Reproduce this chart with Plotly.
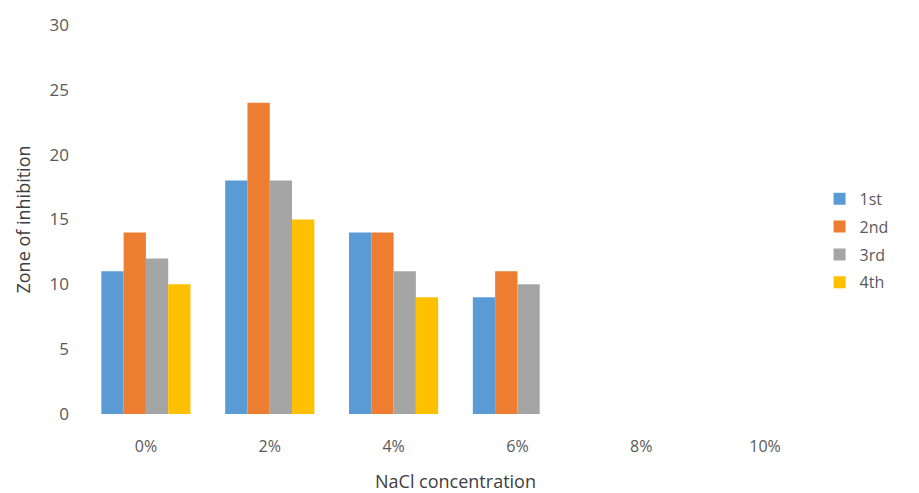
import plotly.graph_objects as go

# NaCl concentrations tested and zone of inhibition per replicate
categories = ["0%", "2%", "4%", "6%", "8%", "10%"]
first = [11, 18, 14, 9, 0, 0]
second = [14, 24, 14, 11, 0, 0]
third = [12, 18, 11, 10, 0, 0]
fourth = [10, 15, 9, 0, 0, 0]

series_names = ["1st", "2nd", "3rd", "4th"]
series_values = [first, second, third, fourth]
colors = ["#5B9BD5", "#ED7D31", "#A5A5A5", "#FFC000"]

font_family = "Open Sans, Liberation Sans, sans-serif"
text_color = "#595959"

fig = go.Figure()
for name, vals, col in zip(series_names, series_values, colors):
    fig.add_trace(go.Bar(
        x=categories, y=vals, name=name, legendgroup=name,
        marker=dict(color=col, line=dict(width=0)),
    ))

fig.update_layout(
    width=919, height=493,
    barmode="group", bargap=0.28, bargroupgap=0,
    plot_bgcolor="white", paper_bgcolor="white",
    margin=dict(l=84, r=92, t=25, b=79),
    font=dict(family=font_family, size=16, color=text_color),
    showlegend=True,
    legend=dict(
        x=0.99, xanchor="left", y=0.445, yanchor="middle",
        font=dict(size=16, color=text_color),
        itemwidth=30, tracegroupgap=4,
    ),
    xaxis=dict(
        title=dict(text="NaCl concentration", font=dict(size=18, color="#404040"), standoff=19),
        showgrid=False, showline=False, zeroline=False, ticks="", automargin=False,
        tickfont=dict(size=16, color=text_color), ticklabelstandoff=21,
    ),
    yaxis=dict(
        title=dict(text="Zone of inhibition", font=dict(size=18, color="#404040"), standoff=14),
        range=[0, 30], dtick=5, showgrid=False, showline=False, zeroline=False,
        ticks="", automargin=False,
        tickfont=dict(size=17, color=text_color), ticklabelstandoff=14,
    ),
)

fig.write_html("out.html")
